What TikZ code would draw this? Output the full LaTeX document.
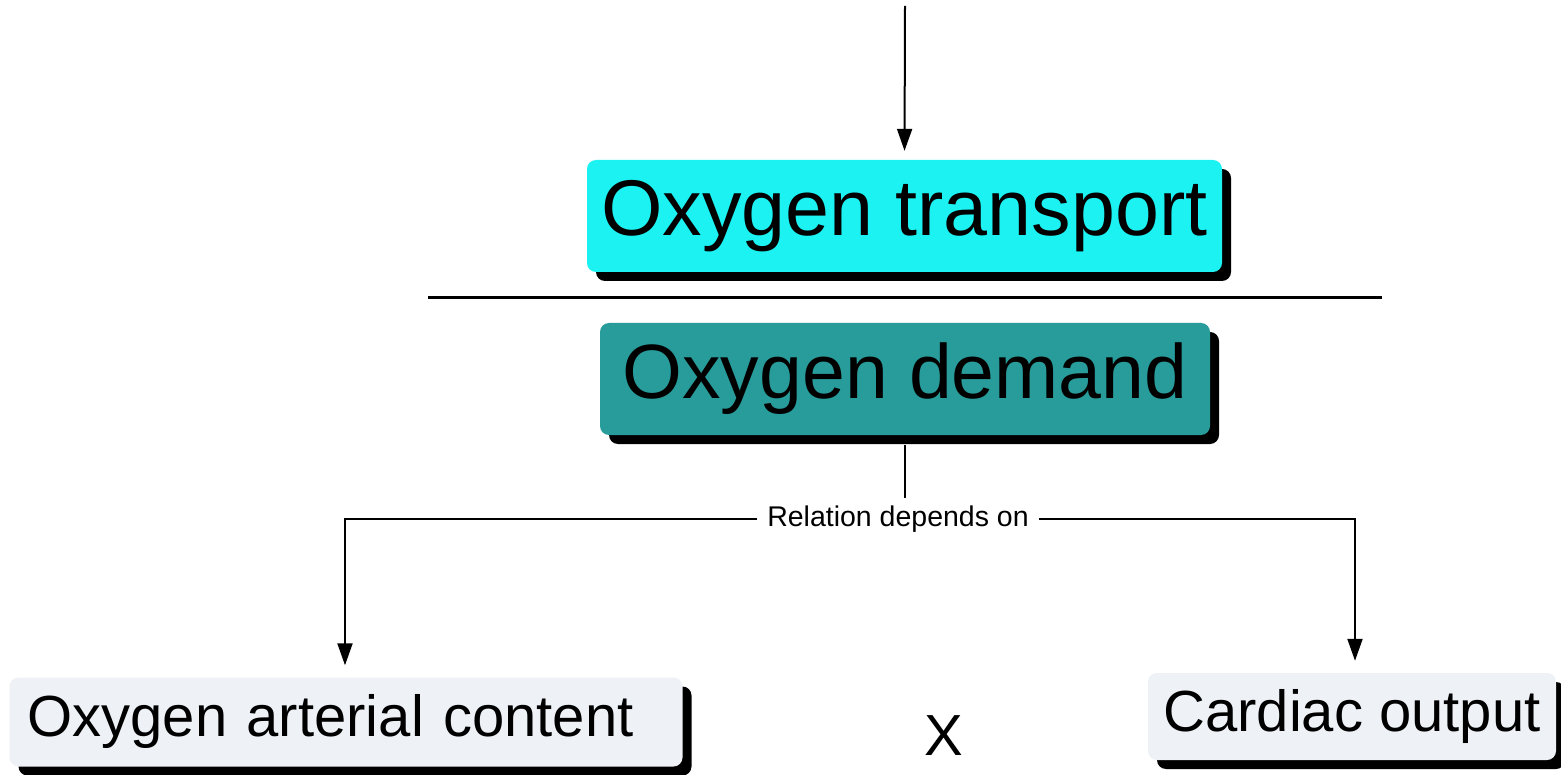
\documentclass[tikz,border=0pt]{standalone}
\usepackage{fontspec}
\setmainfont{Liberation Sans}
\usetikzlibrary{arrows.meta,shadows}
\definecolor{cyanbox}{RGB}{28,242,242}
\definecolor{tealbox}{RGB}{40,155,155}
\definecolor{greybox}{RGB}{238,242,246}
\begin{document}
\begin{tikzpicture}[x=1pt,y=-1pt,
  box/.style={rounded corners=9pt, inner sep=0pt,
    general shadow={fill=black, shadow xshift=9pt, shadow yshift=-9pt}},
  conn/.style={line width=2pt, draw=black},
  arr/.style={conn, -{Triangle[length=22pt,width=15pt]}}]
\useasboundingbox (0,0) rectangle (1561,775);
\fill[white] (0,0) rectangle (1561,775);

\node[box, fill=cyanbox, minimum width=635pt, minimum height=112pt,
      font=\fontsize{79}{90}\selectfont] (transport) at (904.5,216) {\raisebox{-4pt}{Oxygen transport}};
\node[box, fill=tealbox, minimum width=610pt, minimum height=112pt,
      font=\fontsize{77}{88}\selectfont] (demand) at (905,379) {\raisebox{-3pt}{Oxygen demand}};

\coordinate (divL) at (428,298);
\coordinate (divR) at (1382,298);
\draw[line width=3pt] (divL) -- (divR);

\coordinate (top) at (905,6);
\draw[arr, shorten >=9pt] (top) -- (transport.north);

\node[font=\fontsize{28.5}{32}\selectfont, inner xsep=10pt, inner ysep=8pt] (rel) at (898,519) {Relation depends on};

\node[box, fill=greybox, inner xsep=18pt, text width=637pt, align=left,
      minimum height=89pt, font=\fontsize{58}{66}\selectfont] (oac) at (346,722) {Oxygen arterial content};
\node[box, fill=greybox, minimum width=408pt, minimum height=87pt,
      font=\fontsize{58}{66}\selectfont] (co) at (1352,716.5) {Cardiac output};
\node[font=\fontsize{58}{66}\selectfont, inner sep=0pt] (times) at (944,736) {X};

\coordinate (dsb) at ([yshift=-10pt]demand.south);
\draw[conn] (dsb) -- (dsb |- rel.north);
\coordinate (lbend) at (345,519);
\coordinate (rbend) at (1355,519);
\draw[arr, shorten >=12pt] (rel.west) -- (lbend) -- (lbend |- oac.north);
\draw[arr, shorten >=12pt] (rel.east) -- (rbend) -- (rbend |- co.north);
\end{tikzpicture}
\end{document}
